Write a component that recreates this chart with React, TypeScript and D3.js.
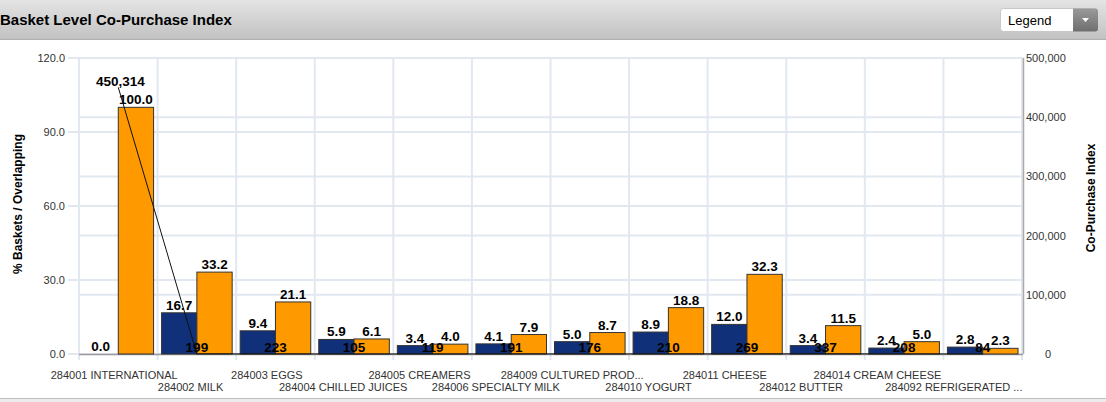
import React from "react";
import * as d3 from "d3";

const categories = [
  "284001 INTERNATIONAL",
  "284002 MILK",
  "284003 EGGS",
  "284004 CHILLED JUICES",
  "284005 CREAMERS",
  "284006 SPECIALTY MILK",
  "284009 CULTURED PROD...",
  "284010 YOGURT",
  "284011 CHEESE",
  "284012 BUTTER",
  "284014 CREAM CHEESE",
  "284092 REFRIGERATED ...",
];
const pctBaskets = [0.0, 16.7, 9.4, 5.9, 3.4, 4.1, 5.0, 8.9, 12.0, 3.4, 2.4, 2.8];
const pctOverlapping = [100.0, 33.2, 21.1, 6.1, 4.0, 7.9, 8.7, 18.8, 32.3, 11.5, 5.0, 2.3];
const coPurchaseIndex = [450314, 199, 223, 105, 119, 191, 176, 210, 269, 337, 208, 84];
const leftTicks = [0, 30, 60, 90, 120];
const rightTicks = [0, 100000, 200000, 300000, 400000, 500000];

const W = 1106;
const H = 402;
const PL = 79;
const PR = 1023;
const PT = 58;
const PB = 354;
const NAVY = "#10307a";
const ORANGE = "#ff9900";
const GRID = "#e1e8f0";
const FONT = "Arial, 'Liberation Sans', sans-serif";

export default function App() {
  const x = d3.scaleBand<string>().domain(categories).range([PL, PR - 1]).padding(0);
  const inner = d3
    .scaleBand<string>()
    .domain(["a", "b"])
    .range([4, x.bandwidth() - 4])
    .padding(0);
  const xLab = d3.scaleBand<string>().domain(categories).range([76, 992]).padding(0);
  const yL = d3.scaleLinear().domain([0, 120]).range([PB, PT]);
  const yR = d3.scaleLinear().domain([0, 500000]).range([PB, PT]);
  const fmtR = d3.format(",");
  const fmtL = d3.format(".1f");

  const cx = (c: string) => (x(c) as number) + x.bandwidth() / 2;
  const linePath = d3
    .line<number>()
    .x((_, i) => cx(categories[i]))
    .y((v) => yR(v))(coPurchaseIndex) as string;

  const boundaries = d3.range(categories.length + 1).map((i) => PL + i * x.bandwidth());

  return (
    <svg
      width={W}
      height={H}
      style={{ position: "absolute", left: 0, top: 0, fontFamily: FONT }}
    >
      <defs>
        <linearGradient id="hdr" x1="0" y1="0" x2="0" y2="1">
          <stop offset="0" stopColor="#e4e4e4" />
          <stop offset="1" stopColor="#c2c2c2" />
        </linearGradient>
        <linearGradient id="btn" x1="0" y1="0" x2="0" y2="1">
          <stop offset="0" stopColor="#9a9a9a" />
          <stop offset="1" stopColor="#6e6e6e" />
        </linearGradient>
      </defs>
      <rect x={0} y={0} width={W} height={H} fill="#fff" />
      {/* header */}
      <rect x={0} y={0} width={W} height={39} fill="url(#hdr)" />
      <line x1={0} x2={W} y1={39.5} y2={39.5} stroke="#b0b0b0" />
      <text x={0} y={25} fontSize={15} fontWeight="bold" fill="#000">
        Basket Level Co-Purchase Index
      </text>
      <rect x={1000.5} y={8.5} width={97} height={23} rx={3} fill="#fff" stroke="#c8c8c8" />
      <path d="M1073,8.5 H1095 a3,3 0 0 1 3,3 V28.5 a3,3 0 0 1 -3,3 H1073 Z" fill="url(#btn)" />
      <path d="M1082,18 L1089,18 L1085.5,22 Z" fill="#fff" />
      <text x={1008} y={25} fontSize={13} fill="#000">
        Legend
      </text>

      {/* footer */}
      <rect x={0} y={398} width={W} height={4} fill="#ececec" />
      <line x1={0} x2={W} y1={398.5} y2={398.5} stroke="#c0c0c0" />

      {/* grid */}
      {leftTicks.map((t) => (
        <line key={"gl" + t} x1={68} x2={PR} y1={yL(t)} y2={yL(t)} stroke={GRID} strokeWidth={2} />
      ))}
      {rightTicks.map((t) => (
        <line key={"gr" + t} x1={PL} x2={PR} y1={yR(t)} y2={yR(t)} stroke={GRID} strokeWidth={2} />
      ))}
      {boundaries.map((b, i) => (
        <line key={"v" + i} x1={b} x2={b} y1={PT} y2={PB + 6} stroke={GRID} strokeWidth={2} />
      ))}

      {/* axes */}
      <line x1={PL} x2={PR} y1={PB + 0.5} y2={PB + 0.5} stroke="#999" strokeWidth={1.5} />
      <line x1={PR + 0.5} x2={PR + 0.5} y1={PT} y2={PB} stroke="#aaa" strokeWidth={1.5} />

      {leftTicks.map((t) => (
        <text key={"lt" + t} x={65} y={yL(t) + 4} fontSize={11} fill="#333" textAnchor="end">
          {fmtL(t)}
        </text>
      ))}
      {rightTicks.map((t) => (
        <text key={"rt" + t} x={t === 0 ? 1048 : 1026} y={yR(t) + 4} fontSize={11} fill="#333" textAnchor={t === 0 ? "middle" : "start"}>
          {fmtR(t)}
        </text>
      ))}

      <text
        transform={`translate(22,204) rotate(-90)`}
        fontSize={12}
        fontWeight="bold"
        textAnchor="middle"
        fill="#000"
      >
        % Baskets / Overlapping
      </text>
      <text
        transform={`translate(1095,198) rotate(-90)`}
        fontSize={12}
        fontWeight="bold"
        textAnchor="middle"
        fill="#000"
      >
        Co-Purchase Index
      </text>

      {/* bars */}
      {categories.map((c, i) => {
        const x0 = x(c) as number;
        const xa = x0 + (inner("a") as number);
        const xb = x0 + (inner("b") as number);
        const bw = inner.bandwidth();
        return (
          <g key={"b" + i}>
            {pctBaskets[i] > 0 && (
              <rect x={xa} y={yL(pctBaskets[i])} width={bw} height={PB - yL(pctBaskets[i])} fill={NAVY} stroke="#333" strokeWidth={1} />
            )}
            <rect x={xb} y={yL(pctOverlapping[i])} width={bw} height={PB - yL(pctOverlapping[i])} fill={ORANGE} stroke="#333" strokeWidth={1} />
          </g>
        );
      })}

      {/* bar labels */}
      {categories.map((c, i) => {
        const x0 = x(c) as number;
        const bw = inner.bandwidth();
        const xa = x0 + (inner("a") as number) + bw / 2;
        const xb = x0 + (inner("b") as number) + bw / 2;
        return (
          <g key={"bl" + i} fontSize={13.5} fontWeight="bold" fill="#000" textAnchor="middle">
            <text x={xa} y={yL(pctBaskets[i]) - 3}>{fmtL(pctBaskets[i])}</text>
            <text x={xb} y={yL(pctOverlapping[i]) - 3}>{fmtL(pctOverlapping[i])}</text>
          </g>
        );
      })}

      {/* line */}
      <path d={linePath} fill="none" stroke="#111" strokeWidth={1} />
      {coPurchaseIndex.map((v, i) => (
        <text
          key={"ll" + i}
          x={cx(categories[i]) + (i === 0 ? 2 : 0)}
          y={yR(v) - 1.5}
          fontSize={13.5}
          fontWeight="bold"
          textAnchor="middle"
          fill="#000"
        >
          {fmtR(v)}
        </text>
      ))}

      {/* category labels */}
      {categories.map((c, i) => (
        <text
          key={"cl" + i}
          x={(xLab(c) as number) + xLab.bandwidth() / 2}
          y={i % 2 === 0 ? 379 : 391}
          fontSize={11}
          textAnchor="middle"
          fill="#333"
        >
          {c}
        </text>
      ))}
    </svg>
  );
}
